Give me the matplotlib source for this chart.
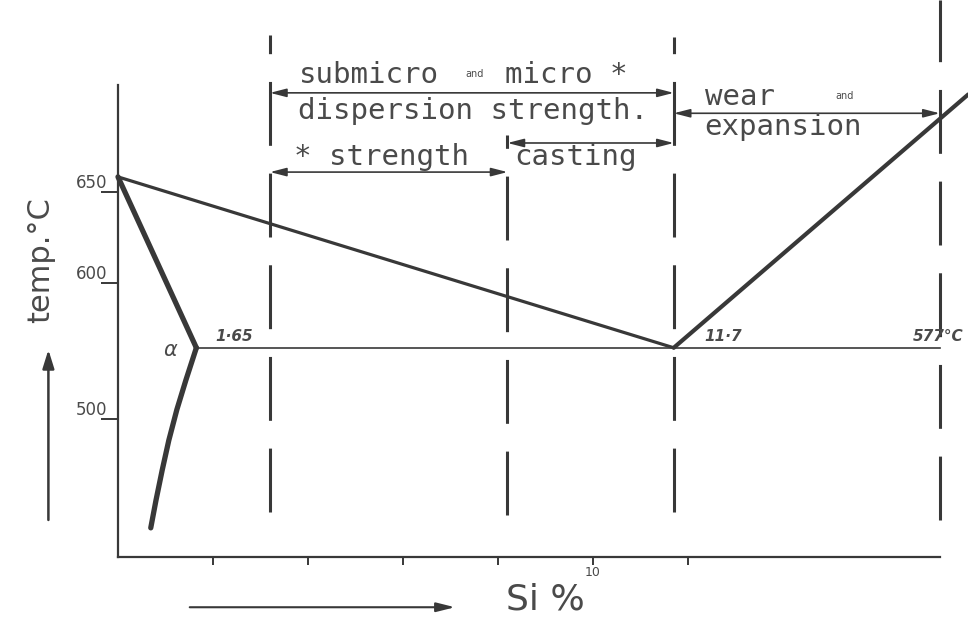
import numpy as np
import matplotlib.pyplot as plt

plt.rcParams["lines.scale_dashes"] = False
plt.rcParams["font.family"] = ["DejaVu Sans"]

# Al-Si equilibrium diagram, schematic
si_liq_al = [0.0, 11.7]
t_liq_al = [660, 577]
si_solidus = [0.0, 1.65]
t_solidus = [660, 577]
si_solvus = [1.65, 1.43, 1.24, 1.07, 0.93, 0.80, 0.69]
t_solvus = [577, 542, 510, 482, 457, 432, 409]
si_liq_si = [11.7, 17.9]
t_liq_si = [577, 715]
eutectic_si = [1.65, 17.3]
eutectic_t = 577
bounds_si = [3.2, 8.2, 11.7, 17.3]

temp_ticks = [500, 600, 650]
si_ticks = [2, 4, 6, 8, 10, 12]
si_ticklabels = ["", "", "", "", "10", ""]

# temperature axis of the drawing is not linear
scale_t = [300, 385, 500, 577, 600, 650, 660, 800]
scale_pos = [-659, -557, -419, -348, -283, -192, -177, 33]


def t_fwd(t):
    return np.interp(t, scale_t, scale_pos)


def t_inv(v):
    return np.interp(v, scale_pos, scale_t)


ink = "#383838"
txt = "#4a4a4a"

fig = plt.figure(figsize=(9.68, 6.19), dpi=100)
ax = fig.add_axes([0, 0, 1, 1])
ax.set_yscale("function", functions=(t_fwd, t_inv))
ax.set_xlim(-2.484, 17.895)
ax.set_ylim(333, 778)

# axes
for side in ("top", "right"):
    ax.spines[side].set_visible(False)
ax.spines["left"].set_position(("data", 0))
ax.spines["left"].set_bounds(385, 721)
ax.spines["bottom"].set_position(("data", 385))
ax.spines["bottom"].set_bounds(0, 17.3)
for side in ("left", "bottom"):
    ax.spines[side].set_linewidth(1.6)
    ax.spines[side].set_color(ink)

ax.set_yticks(temp_ticks, [str(t) for t in temp_ticks], va="bottom")
ax.tick_params(axis="y", direction="out", length=12, width=1.4, pad=-4,
               labelsize=12, colors=ink, labelcolor=txt)
ax.set_xticks(si_ticks, si_ticklabels)
ax.tick_params(axis="x", direction="out", length=6, width=1.4, pad=1,
               labelsize=9, colors=ink, labelcolor=txt)

# phase boundaries
ax.plot(si_liq_al, t_liq_al, color=ink, lw=2.3, solid_capstyle="round")
ax.plot(si_solidus, t_solidus, color=ink, lw=3.8, solid_capstyle="round")
ax.plot(si_solvus, t_solvus, color=ink, lw=3.8, solid_capstyle="round",
        solid_joinstyle="round")
ax.plot(si_liq_si, t_liq_si, color=ink, lw=3.0, solid_capstyle="round")
ax.plot(eutectic_si, [eutectic_t, eutectic_t], color=ink, lw=1.2)

# application ranges
spans = [(0.173, 0.943), (0.168, 0.782), (0.173, 0.940), (0.160, 1.0)]
for x, (y0, y1) in zip(bounds_si, spans):
    ax.axvline(x, y0, y1, color=ink, lw=2.2, linestyle=(0, (46, 20)))

tr = ax.get_xaxis_transform()
arrow = dict(arrowstyle="<|-|>,head_length=0.7,head_width=0.18",
             color=ink, lw=1.2, shrinkA=0, shrinkB=0, mutation_scale=14)
ax.annotate("", xy=(bounds_si[0], 0.850), xytext=(bounds_si[2], 0.850),
            xycoords=tr, textcoords=tr, arrowprops=arrow)
ax.annotate("", xy=(bounds_si[2], 0.817), xytext=(bounds_si[3], 0.817),
            xycoords=tr, textcoords=tr, arrowprops=arrow)
ax.annotate("", xy=(bounds_si[1], 0.769), xytext=(bounds_si[2], 0.769),
            xycoords=tr, textcoords=tr, arrowprops=arrow)
ax.annotate("", xy=(bounds_si[0], 0.722), xytext=(bounds_si[1], 0.722),
            xycoords=tr, textcoords=tr, arrowprops=arrow)

lab = dict(transform=tr, fontsize=21, color=txt, va="center",
           family="DejaVu Sans Mono")
small = dict(transform=tr, fontsize=7, color=txt, va="center", ha="center")
ax.text(3.8, 0.879, "submicro", **lab)
ax.text(7.5, 0.881, "and", **small)
ax.text(8.15, 0.879, "micro *", **lab)
ax.text(3.8, 0.821, "dispersion strength.", **lab)
ax.text(12.35, 0.843, "wear", **lab)
ax.text(15.3, 0.845, "and", **small)
ax.text(12.35, 0.795, "expansion", **lab)
ax.text(3.7, 0.746, "* strength", **lab)
ax.text(8.35, 0.746, "casting", **lab)

# point labels
pt = dict(fontsize=11, style="italic", weight="bold", color=txt, va="center")
ax.text(2.05, 581, "1·65", **pt)
ax.text(12.35, 581, "11·7", **pt)
ax.text(17.8, 581, "577°C", ha="right", **pt)
ax.text(1.1, 575, "α", fontsize=15, style="italic", color=txt,
        va="center", ha="center")

# axis titles with direction arrows
ax.text(0.042, 0.58, "temp.°C", transform=ax.transAxes, rotation=90,
        fontsize=22, color=txt, va="center", ha="center")
ax.annotate("", xy=(0.050, 0.435), xytext=(0.050, 0.16),
            xycoords="axes fraction",
            arrowprops=dict(arrowstyle="-|>,head_length=0.8,head_width=0.25",
                            color=ink, lw=1.8, shrinkA=0, shrinkB=0,
                            mutation_scale=14))
ax.text(0.563, 0.031, "Si %", transform=ax.transAxes, fontsize=26,
        color=txt, va="center", ha="center")
ax.annotate("", xy=(0.47, 0.019), xytext=(0.196, 0.019),
            xycoords="axes fraction",
            arrowprops=dict(arrowstyle="-|>,head_length=0.8,head_width=0.2",
                            color=ink, lw=1.5, shrinkA=0, shrinkB=0,
                            mutation_scale=14))

fig.savefig("out.png", dpi=100)
